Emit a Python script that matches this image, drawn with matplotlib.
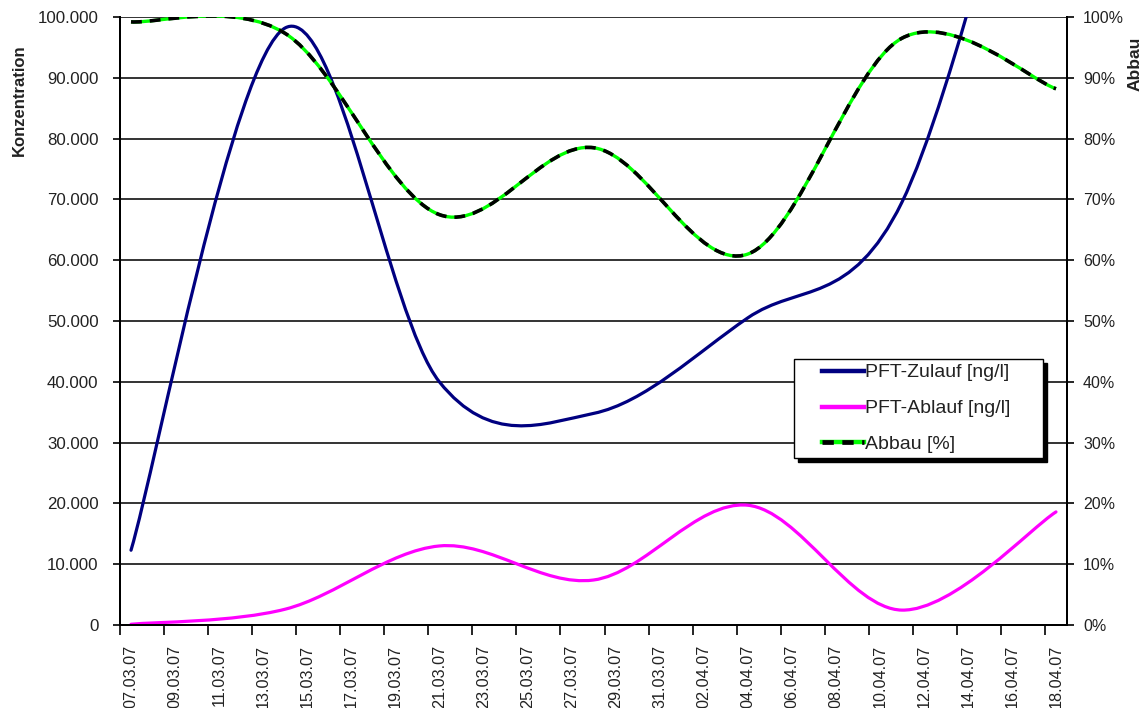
import numpy as np
import matplotlib
matplotlib.use("Agg")
import matplotlib.pyplot as plt
from matplotlib.path import Path
from matplotlib.patches import PathPatch
from matplotlib.lines import Line2D
from matplotlib.ticker import FuncFormatter, FixedLocator
from matplotlib.legend_handler import HandlerLine2D, HandlerTuple
import matplotlib.transforms as mtransforms

plt.rcParams['font.family'] = ['Liberation Sans', 'DejaVu Sans']

# ---- data (days after 07.03.07) ----
sample_days = [0, 7, 14, 21, 28, 35, 42]
zulauf = [12300, 98200, 40000, 34800, 50500, 69500, 154000]   # ng/l
ablauf = [120, 2600, 13000, 7400, 19700, 2450, 18600]          # ng/l
abbau = [99.2, 97.3, 67.5, 78.5, 61.0, 96.5, 88.2]              # %

tick_days = list(range(0, 43, 2))
tick_labels = ['07.03.07', '09.03.07', '11.03.07', '13.03.07', '15.03.07', '17.03.07',
               '19.03.07', '21.03.07', '23.03.07', '25.03.07', '27.03.07', '29.03.07',
               '31.03.07', '02.04.07', '04.04.07', '06.04.07', '08.04.07', '10.04.07',
               '12.04.07', '14.04.07', '16.04.07', '18.04.07']

labels = ['PFT-Zulauf [ng/l]', 'PFT-Ablauf [ng/l]', 'Abbau [%]']


def smooth_path(xs, ys):
    """Excel-like smoothed line: cubic Bezier segments through the data points."""
    P = np.column_stack([np.asarray(xs, float), np.asarray(ys, float)])
    Pext = np.vstack([P[0], P, P[-1]])
    verts = [P[0]]
    codes = [Path.MOVETO]
    for i in range(len(P) - 1):
        pp, p0, p1, pn = Pext[i], Pext[i + 1], Pext[i + 2], Pext[i + 3]
        c1 = p0 + (p1 - pp) / 6.0
        c2 = p1 - (pn - p0) / 6.0
        verts += [c1, c2, p1]
        codes += [Path.CURVE4] * 3
    return Path(verts, codes)


class ShiftedLine(HandlerLine2D):
    """Legend line drawn only over the right part of the handle box."""
    def __init__(self, start_frac=0.4, **kw):
        super().__init__(**kw)
        self.start_frac = start_frac

    def create_artists(self, legend, orig_handle, xdescent, ydescent, width,
                       height, fontsize, trans):
        arts = super().create_artists(legend, orig_handle, xdescent, ydescent,
                                      width, height, fontsize, trans)
        x0 = -xdescent + self.start_frac * width
        x1 = -xdescent + width
        for a in arts:
            if isinstance(a, Line2D):
                xd = np.asarray(a.get_xdata(), float)
                if xd.size >= 2:
                    a.set_xdata(np.linspace(x0, x1, xd.size))
        return arts


W, H = 1148, 708
fig = plt.figure(figsize=(W / 100, H / 100), dpi=100)
ax = fig.add_axes([120 / W, 1 - 625 / H, (1067 - 120) / W, (625 - 17) / H])
ax2 = ax.twinx()

xpts = np.asarray(sample_days, float) + 0.5

ax.set_xlim(0, 43)
ax.set_ylim(0, 100000)
ax2.set_ylim(0, 100)

# gridlines
ax.set_yticks(np.arange(0, 100001, 10000))
ax.yaxis.grid(True, color='#111111', linewidth=1.2)
ax.set_axisbelow(True)
ax.xaxis.grid(False)

navy = '#000080'
magenta = '#FF00FF'
green = '#00FF00'

ax.add_patch(PathPatch(smooth_path(xpts, zulauf), fill=False, edgecolor=navy,
                       linewidth=2.3, capstyle='round', joinstyle='round', zorder=3))
ax.add_patch(PathPatch(smooth_path(xpts, ablauf), fill=False, edgecolor=magenta,
                       linewidth=2.3, capstyle='round', joinstyle='round', zorder=3))
gpath = smooth_path(xpts, abbau)
ax2.add_patch(PathPatch(gpath, fill=False, edgecolor=green, linewidth=2.4,
                        capstyle='butt', zorder=3))
ax2.add_patch(PathPatch(gpath, fill=False, edgecolor='black', linewidth=2.6,
                        linestyle=(0, (3.0, 2.2)), capstyle='butt', zorder=4))

# axes formatting
for a in (ax, ax2):
    a.spines['top'].set_visible(False)
    for s in ('left', 'right', 'bottom'):
        a.spines[s].set_linewidth(1.4)
        a.spines[s].set_color('black')

ax.yaxis.set_major_formatter(FuncFormatter(
    lambda v, p: '0' if v == 0 else f'{int(round(v)):,}'.replace(',', '.')))
ax2.set_yticks(np.arange(0, 101, 10))
ax2.yaxis.set_major_formatter(FuncFormatter(lambda v, p: f'{int(round(v))}%'))

ax.tick_params(axis='y', direction='out', length=5, width=1.2, labelsize=12.2,
               labelcolor='#222222', color='black', pad=10.5)
ax2.tick_params(axis='y', direction='out', length=5, width=1.2, labelsize=11.5,
                labelcolor='#222222', color='black', pad=6.5)

ax.xaxis.set_major_locator(FixedLocator(tick_days))
ax.set_xticklabels(tick_labels, rotation=90, fontsize=11.7, ha='center', va='top',
                   color='#222222')
ax.tick_params(axis='x', direction='out', length=7, width=1.2, pad=7)
offset = mtransforms.ScaledTranslation(11 / 100, 0, fig.dpi_scale_trans)
for lab in ax.get_xticklabels():
    lab.set_transform(lab.get_transform() + offset)

fig.text(19 / W, 1 - 100 / H, 'Konzentration', rotation=90, ha='center', va='center',
         fontsize=12, fontweight='bold', color='#222222')
fig.text(1135 / W, 1 - 64 / H, 'Abbau', rotation=90, ha='center', va='center',
         fontsize=12.5, fontweight='bold', color='#222222')

h_blue = Line2D([], [], color=navy, linewidth=3.2)
h_pink = Line2D([], [], color=magenta, linewidth=3.2)
h_green = Line2D([], [], color=green, linewidth=3.2)
h_black = Line2D([], [], color='black', linewidth=3.4, linestyle=(0, (2.4, 1.8)))
handles = [h_blue, h_pink, (h_green, h_black)]
shift = ShiftedLine(start_frac=0.354)
leg_x0 = (794 - 120) / 947
leg_w = (1043 - 794) / 947
leg_top = (625 - 359) / 608
leg = ax2.legend(handles, labels, loc='upper left', mode='expand',
                 bbox_to_anchor=(leg_x0, leg_top - 0.2, leg_w, 0.2),
                 handler_map={Line2D: shift,
                              tuple: HandlerTuple(ndivide=1, pad=0)},
                 frameon=True, fancybox=False, framealpha=1, edgecolor='black',
                 shadow={'color': 'black', 'alpha': 1, 'ox': 3, 'oy': -3},
                 fontsize=14, handlelength=3.35, handletextpad=0.05,
                 labelspacing=0.94, borderpad=0.25, borderaxespad=0)
for t in leg.get_texts():
    t.set_color('#222222')
leg.get_frame().set_linewidth(1.0)
leg.set_zorder(10)

fig.savefig('out.png', dpi=100)
